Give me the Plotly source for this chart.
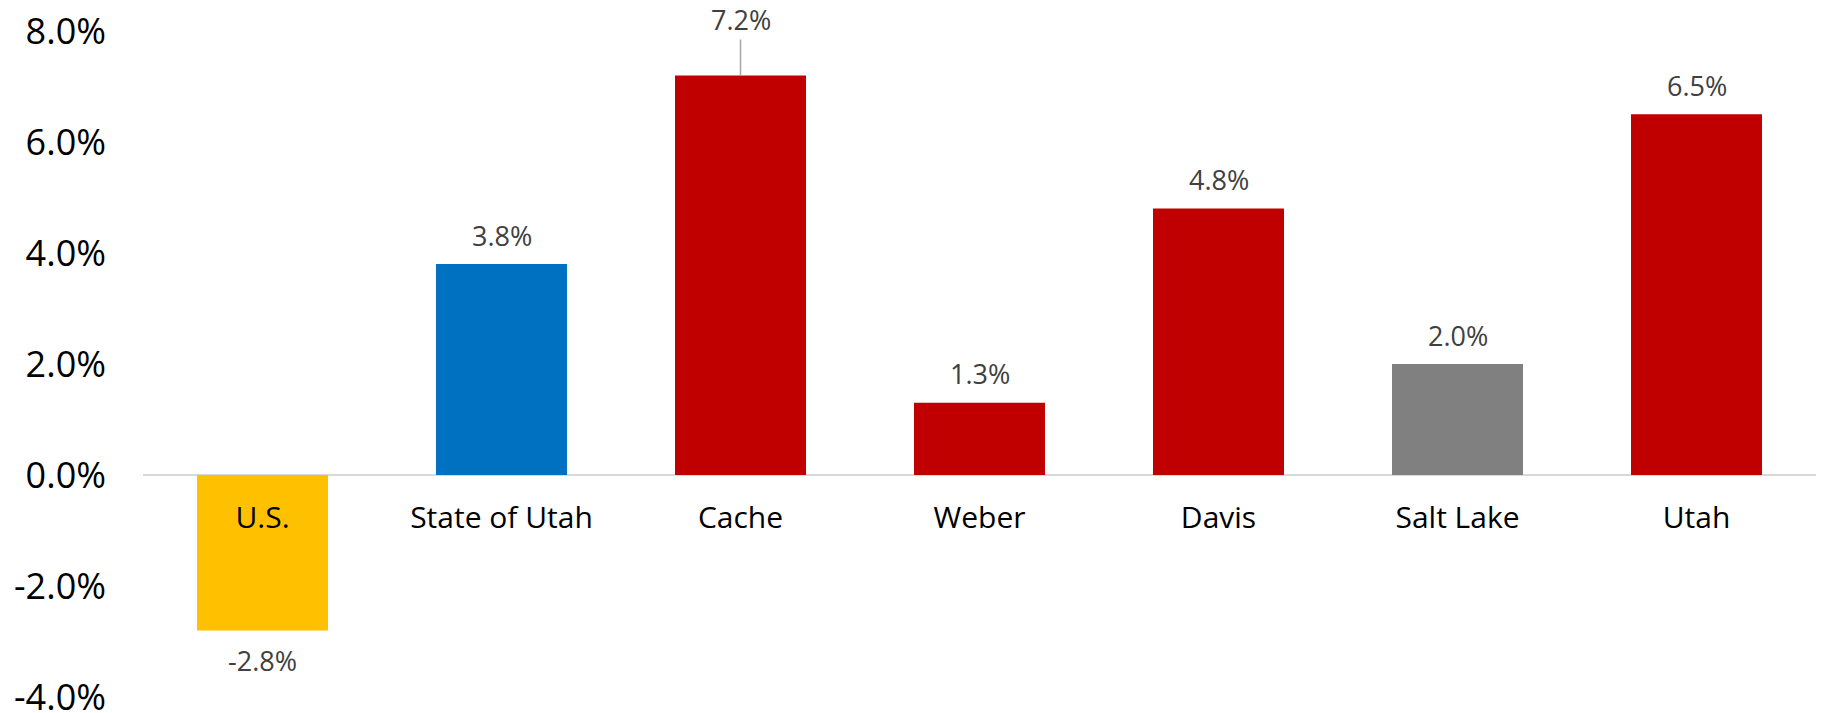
import plotly.graph_objects as go

categories = ["U.S.", "State of Utah", "Cache", "Weber", "Davis", "Salt Lake", "Utah"]
values = [-2.8, 3.8, 7.2, 1.3, 4.8, 2.0, 6.5]
bar_colors = ["#FFC000", "#0070C0", "#C00000", "#C00000", "#C00000", "#808080", "#C00000"]
tick_vals = [-4, -2, 0, 2, 4, 6, 8]
tick_text = ["-4.0%", "-2.0%", "0.0%", "2.0%", "4.0%", "6.0%", "8.0%"]
leader_label = "Cache"  # label pulled up with a leader line

FONT = "Open Sans, Noto Sans, DejaVu Sans, sans-serif"

fig = go.Figure()
fig.add_trace(go.Bar(
    x=categories, y=values,
    marker=dict(color=bar_colors, line=dict(width=0)),
    hoverinfo="x+y",
))

for c, v in zip(categories, values):
    label = f"{v:.1f}%"
    if c == leader_label:
        fig.add_annotation(
            x=c, y=v, text=label, showarrow=True, arrowhead=0,
            arrowcolor="#A6A6A6", arrowwidth=1.5, ax=0, ay=-56,
            standoff=0, startstandoff=0,
            font=dict(family=FONT, size=27, color="#404040"),
        )
    else:
        fig.add_annotation(
            x=c, y=v, text=label, showarrow=False,
            yshift=29 if v >= 0 else -30, yanchor="middle",
            font=dict(family=FONT, size=27, color="#404040"),
        )

fig.update_layout(
    width=1824, height=713,
    margin=dict(l=143, r=8, t=31, b=16, autoexpand=False),
    paper_bgcolor="white", plot_bgcolor="white",
    bargap=0.452,
    showlegend=False,
    font=dict(family=FONT),
    xaxis=dict(
        type="category", anchor="free", position=1/3, automargin=False,
        showgrid=False, showline=False, zeroline=False, ticks="",
        tickfont=dict(family=FONT, size=30, color="#000000"),
        ticklabelstandoff=22,
    ),
    yaxis=dict(
        range=[-4, 8], tickvals=tick_vals, ticktext=tick_text, automargin=False,
        showgrid=False, showline=False, ticks="",
        zeroline=True, zerolinecolor="#D9D9D9", zerolinewidth=2,
        tickfont=dict(family=FONT, size=36, color="#000000"),
        ticklabelstandoff=36, ticklabeloverflow="allow",
    ),
)

fig.write_html("out.html", config={"displayModeBar": False},
               post_script="document.body.style.margin='0';")
